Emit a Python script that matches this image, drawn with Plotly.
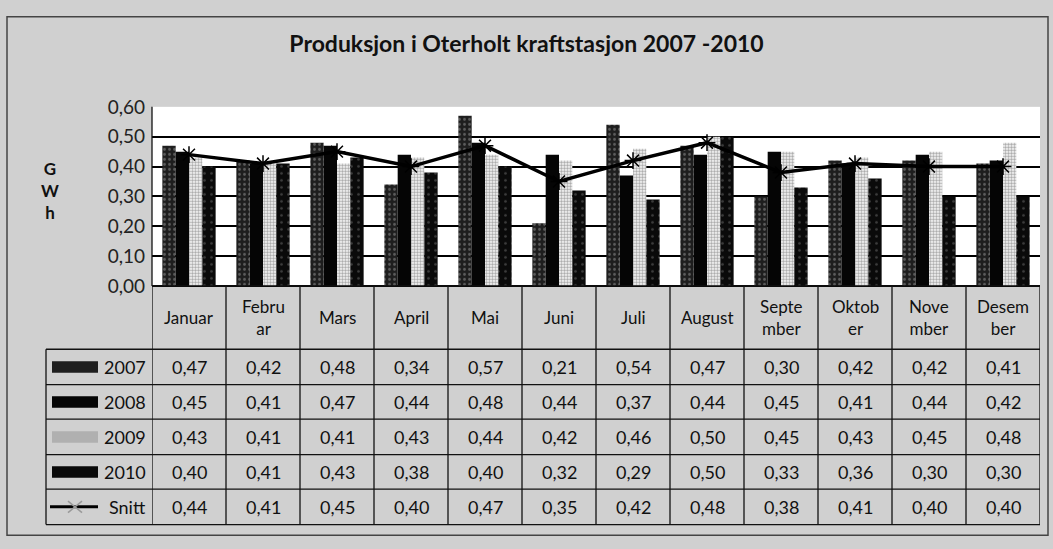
import plotly.graph_objects as go

# data (GWh per month)
months = ['Januar', 'Februar', 'Mars', 'April', 'Mai', 'Juni', 'Juli',
          'August', 'September', 'Oktober', 'November', 'Desember']
month_labels = ['Januar', 'Febru<br>ar', 'Mars', 'April', 'Mai', 'Juni', 'Juli',
                'August', 'Septe<br>mber', 'Oktob<br>er', 'Nove<br>mber', 'Desem<br>ber']
y2007 = [0.47, 0.42, 0.48, 0.34, 0.57, 0.21, 0.54, 0.47, 0.30, 0.42, 0.42, 0.41]
y2008 = [0.45, 0.41, 0.47, 0.44, 0.48, 0.44, 0.37, 0.44, 0.45, 0.41, 0.44, 0.42]
y2009 = [0.43, 0.41, 0.41, 0.43, 0.44, 0.42, 0.46, 0.50, 0.45, 0.43, 0.45, 0.48]
y2010 = [0.40, 0.41, 0.43, 0.38, 0.40, 0.32, 0.29, 0.50, 0.33, 0.36, 0.30, 0.30]
snitt = [0.44, 0.41, 0.45, 0.40, 0.47, 0.35, 0.42, 0.48, 0.38, 0.41, 0.40, 0.40]

W, H = 1053, 549
FONT = 'Lato'
BG = '#d0d0d0'

def px(x):
    return x / W

def py(y):
    return 1 - y / H

x_left, x_right = 152, 1040
y_top, y_zero = 99, 286
row_lines = [286, 352, 389, 425, 462, 498, 535]

series = [
    ('2007', y2007, dict(color='#1e1e1e', pattern=dict(shape='.', fgcolor='#9a9a9a', size=5, solidity=0.25))),
    ('2008', y2008, dict(color='#050505')),
    ('2009', y2009, dict(color='#ffffff', pattern=dict(shape='.', fgcolor='#555555', size=3, solidity=0.55))),
    ('2010', y2010, dict(color='#0a0a0a', pattern=dict(shape='.', fgcolor='#707070', size=7, solidity=0.12))),
]

fig = go.Figure()
for name, vals, mk in series:
    fig.add_trace(go.Bar(x=months, y=vals, name=name, marker=dict(line=dict(width=0), **mk)))

fig.add_trace(go.Scatter(x=months, y=snitt, name='Snitt', mode='lines+markers',
                         line=dict(color='#000000', width=3.5),
                         marker=dict(symbol='asterisk-open', size=14,
                                     line=dict(color='#c8c8c8', width=1.5))))

shapes = []
annotations = []

# outer frame
shapes.append(dict(type='rect', xref='paper', yref='paper', x0=px(7), x1=px(1048), y0=py(546), y1=py(5),
                   line=dict(color='#444', width=1.5), layer='below'))

# table horizontal lines
for i, yl in enumerate(row_lines):
    x0 = x_left if i == 0 else 46
    shapes.append(dict(type='line', xref='paper', yref='paper', x0=px(x0), x1=px(x_right),
                       y0=py(yl), y1=py(yl), line=dict(color='#111', width=1.3)))
# table vertical lines
for k in range(13):
    shapes.append(dict(type='line', xref='x', yref='paper', x0=k - 0.5, x1=k - 0.5,
                       y0=py(row_lines[0]), y1=py(row_lines[-1]), line=dict(color='#111', width=1.3)))
shapes.append(dict(type='line', xref='paper', yref='paper', x0=px(46), x1=px(46),
                   y0=py(row_lines[1]), y1=py(row_lines[-1]), line=dict(color='#111', width=1.3)))
# plot area left border
shapes.append(dict(type='line', xref='paper', yref='paper', x0=px(x_left), x1=px(x_left),
                   y0=py(y_zero), y1=py(y_top), line=dict(color='#111', width=1.3)))

# month header
for m, lab in zip(months, month_labels):
    annotations.append(dict(x=m, xref='x', y=py((row_lines[0] + row_lines[1]) / 2), yref='paper',
                            yanchor='middle', text=lab, showarrow=False,
                            font=dict(family=FONT, size=17, color='#111')))

rows = [('2007', y2007), ('2008', y2008), ('2009', y2009), ('2010', y2010), ('Snitt', snitt)]
for r, (name, vals) in enumerate(rows):
    yc = (row_lines[r + 1] + row_lines[r + 2]) / 2
    for m, v in zip(months, vals):
        annotations.append(dict(x=m, xref='x', y=py(yc), yref='paper', yanchor='middle',
                                text=('%.2f' % v).replace('.', ','), showarrow=False,
                                font=dict(family=FONT, size=18, color='#111')))
    annotations.append(dict(x=px(148), xref='paper', y=py(yc), yref='paper', xanchor='right',
                            yanchor='middle', text=name, showarrow=False,
                            font=dict(family=FONT, size=18, color='#111')))
    if name != 'Snitt':
        mk = series[r][2]
        fill = mk['color'] if name != '2009' else '#b0b0b0'
        shapes.append(dict(type='rect', xref='paper', yref='paper', x0=px(52), x1=px(98),
                           y0=py(yc + 6), y1=py(yc - 6), fillcolor=fill, line=dict(width=0)))
    else:
        shapes.append(dict(type='line', xref='paper', yref='paper', x0=px(50), x1=px(98),
                           y0=py(yc), y1=py(yc), line=dict(color='#000', width=3)))
        for dy in (-6, 6):
            shapes.append(dict(type='line', xref='paper', yref='paper', x0=px(68), x1=px(82),
                               y0=py(yc - dy), y1=py(yc + dy), line=dict(color='#999', width=1.5)))

# GWh axis title
annotations.append(dict(x=px(50), xref='paper', y=py(186), yref='paper', text='<b>G<br>W<br>h</b>',
                        showarrow=False, font=dict(family=FONT, size=17, color='#111'),
                        xanchor='center', yanchor='middle'))

fig.update_layout(
    width=W, height=H,
    margin=dict(l=0, r=0, t=0, b=0),
    paper_bgcolor=BG, plot_bgcolor='#ffffff',
    separators=', ',
    barmode='group', bargap=0.28, bargroupgap=0.0,
    showlegend=False,
    title=dict(text='<b>Produksjon i Oterholt kraftstasjon 2007 -2010</b>', x=0.5, xanchor='center',
               y=py(44), yanchor='middle', font=dict(family=FONT, size=23, color='#111')),
    xaxis=dict(domain=[px(x_left), px(x_right)], range=[-0.5, 11.5], showticklabels=False,
               showgrid=False, zeroline=False, showline=False, ticks=''),
    yaxis=dict(domain=[py(y_zero), py(y_top)], range=[0, 0.6], dtick=0.1, tickformat='.2f',
               showgrid=True, gridcolor='#000', gridwidth=1.6, zeroline=True,
               zerolinecolor='#000', zerolinewidth=2, ticks='', ticklabelstandoff=6,
               tickfont=dict(family=FONT, size=19, color='#222')),
    shapes=shapes, annotations=annotations,
)

# page body has a default 8px margin; drop it so the figure fills the window
fig.write_html('out.html', config={'displayModeBar': False},
               post_script="document.body.style.margin='0';")
